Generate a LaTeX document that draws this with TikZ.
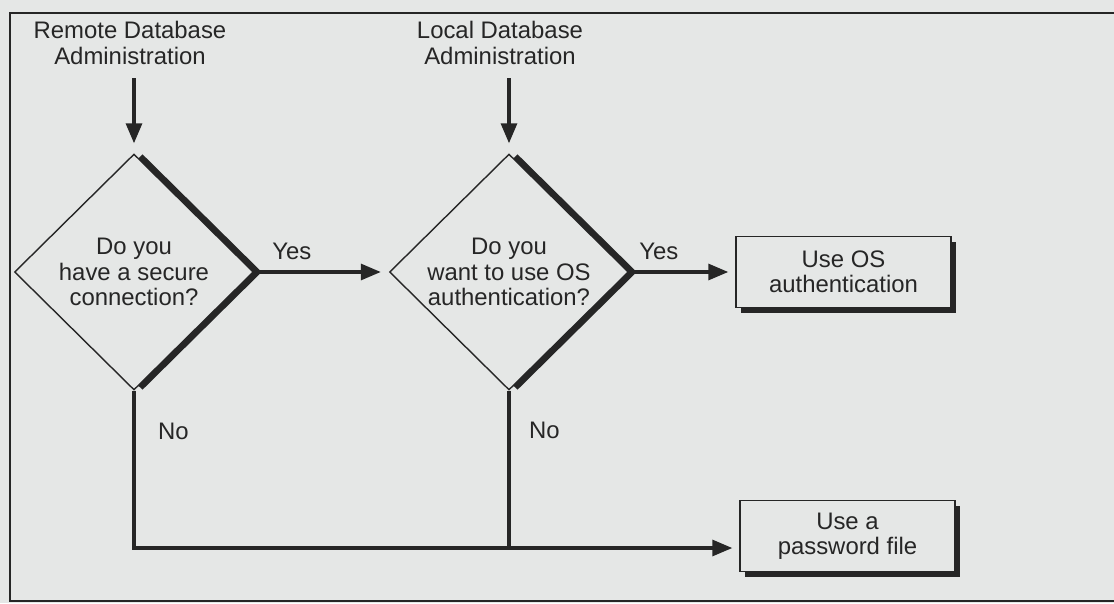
\documentclass[tikz,border=0pt]{standalone}
\usepackage{fontspec}
\setmainfont{Liberation Sans}
\usetikzlibrary{shapes.geometric, arrows.meta, positioning, shadows}
\definecolor{paper}{RGB}{229,231,230}
\definecolor{ink}{RGB}{38,38,38}

\begin{document}
\begin{tikzpicture}[font=\fontsize{13.6}{14.4}\selectfont, color=ink,
  question/.style={diamond,draw=ink,line width=0.8pt,fill=paper,
                   minimum width=4.78cm,minimum height=4.72cm,inner sep=0pt,align=center,
                   drop shadow={shadow xshift=0.17cm,shadow yshift=0cm,fill=ink,opacity=1}},
  action/.style={rectangle,draw=ink,line width=0.8pt,fill=paper,
                 minimum width=4.3cm,minimum height=1.42cm,align=center,
                 drop shadow={shadow xshift=0.1cm,shadow yshift=-0.1cm,fill=ink,opacity=1}},
  flow/.style={line width=1.8pt,-{Triangle[length=0.4cm,width=0.32cm]}},
  lbl/.style={inner sep=2pt,align=center}]

  % --- page and frame ---
  \path[use as bounding box,fill=paper] (0,0) rectangle (22.28,-12.06);
  \draw[line width=1pt] (0.2,-0.26) rectangle (22.6,-12.02);

  % --- starting points ---
  \node[lbl] (remote) at (2.6,-0.86) {Remote Database\\ Administration};
  \node[lbl] (local) at (10.0,-0.86) {Local Database\\ Administration};

  % --- decisions ---
  \node[question] (secure) at (2.68,-5.44) {Do you\\ have a secure\\ connection?};
  \node[question] (osauth) at (10.18,-5.44) {Do you\\ want to use OS\\ authentication?};
  \draw[flow,shorten <=0.2cm,shorten >=0.2cm] (secure.north |- remote.south) -- (secure.north);
  \draw[flow,shorten <=0.2cm,shorten >=0.2cm] (osauth.north |- local.south) -- (osauth.north);

  % --- outcomes ---
  \node[action] (useos) at (16.87,-5.44) {Use OS\\ authentication};
  \node[action] (pwfile) at (16.95,-10.72) {Use a\\ password file};
  \coordinate (bus) at (0,-10.96);

  \draw[flow,shorten >=0.16cm] (secure.east) -- node[lbl,above=0.14cm,pos=0.28] {Yes} (osauth.west);
  \draw[flow,shorten >=0.14cm] (osauth.east) -- node[lbl,above=0.14cm,pos=0.28] {Yes} (useos.west);

  % --- "No" branches join on one line ---
  \draw[flow,shorten >=0.14cm] (secure.south) |- node[lbl,right=0.38cm,pos=0.13] {No} (pwfile.west |- bus);
  \draw[line width=1.8pt] (osauth.south) -- node[lbl,right=0.3cm,pos=0.25] {No} (osauth.south |- bus);
\end{tikzpicture}
\end{document}
